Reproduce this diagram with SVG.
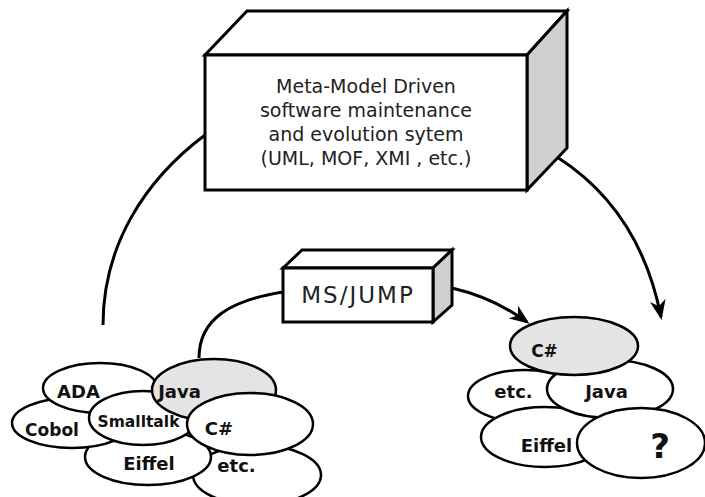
<svg xmlns="http://www.w3.org/2000/svg" width="705" height="497" viewBox="0 0 705 497">
<style>
.edge{fill:none;stroke:#000;stroke-width:3}
.box{stroke:#000;stroke-width:3;stroke-linejoin:miter}
.ov{fill:#fff;stroke:#000;stroke-width:2.5}
.ovg{fill:#e4e4e4;stroke:#000;stroke-width:2.5}
.lbl{font-family:"DejaVu Sans",sans-serif;font-weight:bold;font-size:18px;fill:#111;text-anchor:middle}
.btx{font-family:"DejaVu Sans",sans-serif;font-size:19px;fill:#222;text-anchor:middle}
</style>
<defs>
<marker id="arr" viewBox="0 0 20 16" refX="17" refY="8" markerWidth="20" markerHeight="16" markerUnits="userSpaceOnUse" orient="auto">
<path d="M0,0 L20,8 L0,16 L6,8 z" fill="#000"/>
</marker>
</defs>
<rect width="705" height="497" fill="#fff"/>
<g id="connectors">
<path class="edge" d="M103,325 C103,245 145,180 205,135"/>
<path class="edge" d="M557,157 Q640,210 661,317" marker-end="url(#arr)"/>
<path class="edge" d="M199,358 C199,318 232,300 283,292"/>
<path class="edge" d="M452,288 C482,295 505,306 527,322" marker-end="url(#arr)"/>
</g>
<g id="mdsystem">
<polygon class="box" points="205,55 247,11 567,11 527,55" fill="#fff"/>
<polygon class="box" points="527,55 567,11 567,148 527,190" fill="#d0d0d0"/>
<rect class="box" x="205" y="55" width="322" height="135" fill="#fff"/>
<text class="btx" x="366" y="93">Meta-Model Driven</text>
<text class="btx" x="366" y="117">software maintenance</text>
<text class="btx" x="366" y="141">and evolution sytem</text>
<text class="btx" x="366" y="165">(UML, MOF, XMI , etc.)</text>
</g>
<g id="msjump">
<polygon class="box" points="283,268 302,250 452,250 433,268" fill="#fff" stroke-width="2.5"/>
<polygon class="box" points="433,268 452,250 452,305 433,322" fill="#d0d0d0" stroke-width="2.5"/>
<rect class="box" x="283" y="268" width="150" height="54" fill="#fff" stroke-width="2.5"/>
<text x="358" y="303" font-family="DejaVu Sans, sans-serif" font-size="23" letter-spacing="2" fill="#222" text-anchor="middle">MS/JUMP</text>
</g>
<g id="left-cluster">
<g id="l-etc"><ellipse class="ov" cx="257" cy="475" rx="64" ry="30"/><text class="lbl" x="236.5" y="472">etc.</text></g>
<g id="l-eiffel"><ellipse class="ov" cx="148" cy="457" rx="63" ry="28"/><text class="lbl" x="149" y="470">Eiffel</text></g>
<g id="l-cobol"><ellipse class="ov" cx="72" cy="423" rx="60" ry="25"/><text class="lbl" x="52" y="436" style="font-size:17px">Cobol</text></g>
<g id="l-ada"><ellipse class="ov" cx="100" cy="388" rx="57" ry="25"/><text class="lbl" x="78.5" y="398">ADA</text></g>
<g id="l-smalltalk"><ellipse class="ov" cx="143" cy="418" rx="54" ry="27"/><text class="lbl" x="138.5" y="427" style="font-size:15.5px">Smalltalk</text></g>
<g id="l-java"><ellipse class="ovg" cx="214" cy="390" rx="62" ry="31"/><text class="lbl" x="179.5" y="398">Java</text></g>
<g id="l-csharp"><ellipse class="ov" cx="250" cy="424" rx="63" ry="31"/><text class="lbl" x="219" y="435">C#</text></g>
</g>
<g id="right-cluster">
<g id="r-etc"><ellipse class="ov" cx="525" cy="396" rx="57" ry="26"/><text class="lbl" x="513.5" y="398">etc.</text></g>
<g id="r-eiffel"><ellipse class="ov" cx="545" cy="437" rx="64" ry="30"/><text class="lbl" x="546.5" y="452">Eiffel</text></g>
<g id="r-java"><ellipse class="ov" cx="610" cy="389" rx="63" ry="29"/><text class="lbl" x="606.5" y="398">Java</text></g>
<g id="r-unknown"><ellipse class="ov" cx="641" cy="443" rx="64" ry="35"/><text class="lbl" x="660" y="458" style="font-size:34px">?</text></g>
<g id="r-csharp"><ellipse class="ovg" cx="574" cy="346" rx="64" ry="29"/><text class="lbl" x="544.5" y="357" style="font-size:17px">C#</text></g>
</g>
</svg>
